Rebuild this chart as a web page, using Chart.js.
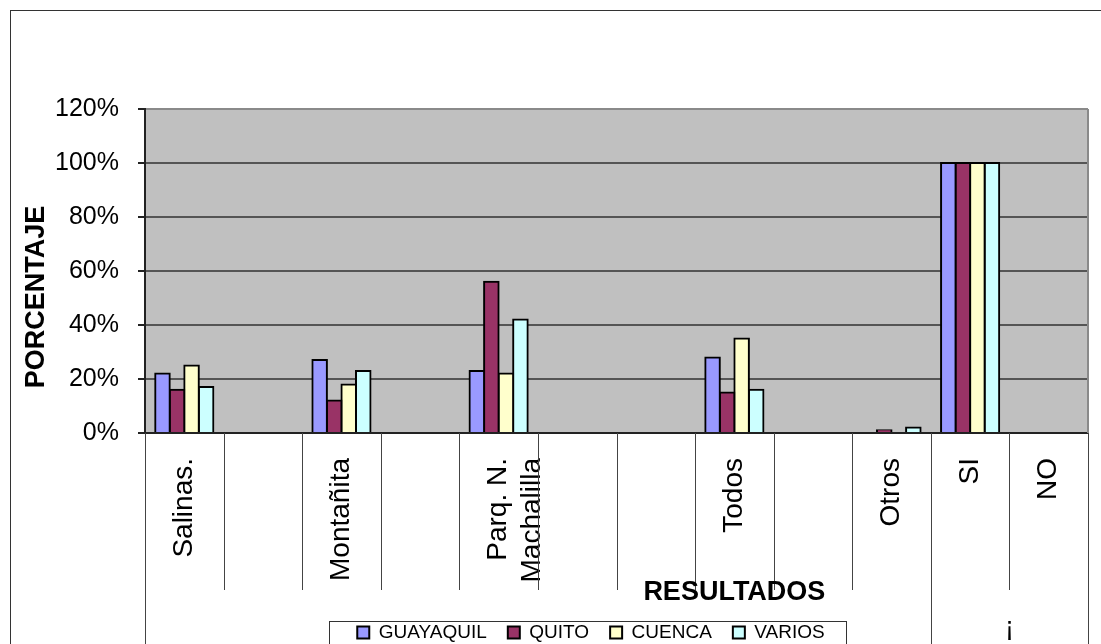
<!DOCTYPE html>
<html>
<head>
<meta charset="utf-8">
<title>Porcentaje por resultados</title>
<script src="https://cdn.jsdelivr.net/npm/chart.js@4.4.1/dist/chart.umd.min.js"></script>
<style>
  html, body { margin: 0; padding: 0; background: #fff; }
  canvas { display: block; }
</style>
</head>
<body>
<canvas id="myChart" width="1101" height="644"></canvas>
<script>
// categories along the x axis (empty strings are blank slots in the original sheet)
const categories = ['Salinas.', '', 'Montañita', '', ['Parq. N.', 'Machalilla'], '', '', 'Todos', '', 'Otros', 'SI', 'NO'];

// percentages per city
const guayaquil = [22, null, 27, null, 23, null, null, 28, null, 0, 100, 0];
const quito     = [16, null, 12, null, 56, null, null, 15, null, 1, 100, 0];
const cuenca    = [25, null, 18, null, 22, null, null, 35, null, 0, 100, 0];
const varios    = [17, null, 23, null, 42, null, null, 16, null, 2, 100, 0];

const yTicks = [0, 20, 40, 60, 80, 100, 120];

// where the long separator lines (second label level) go
const groupEdges = [0, 10, 12];

const FONT = '"Liberation Sans", Arial, Helvetica, sans-serif';
Chart.defaults.font.family = FONT;
Chart.defaults.color = '#000';

const excelLook = {
    id: 'excelLook',
    beforeDraw(chart) {
        const { ctx, chartArea: a } = chart;
        ctx.save();
        ctx.fillStyle = '#fff';
        ctx.fillRect(0, 0, chart.width, chart.height);
        ctx.strokeStyle = '#333';
        ctx.lineWidth = 1;
        ctx.strokeRect(10.5, 10.5, chart.width + 20, chart.height + 20);
        ctx.fillStyle = '#c0c0c0';
        ctx.fillRect(a.left, a.top, a.right - a.left, a.bottom - a.top);
        ctx.restore();
    },
    afterLayout(chart) {
        // move the legend a bit to the right, like the original
        const lg = chart.legend;
        const half = (lg.right - lg.left) / 2;
        lg.left = 591 - half;
        lg.right = 591 + half;
        lg.top = 602;
        lg.bottom = lg.top + lg.height;
    },
    afterDraw(chart) {
        const { ctx, chartArea: a } = chart;
        const xs = chart.scales.x;
        const n = chart.data.labels.length;
        const step = (xs.right - xs.left) / n;
        ctx.save();

        // right border of the plot
        ctx.strokeStyle = '#8a8a8a';
        ctx.lineWidth = 2;
        ctx.beginPath();
        ctx.moveTo(a.right, a.top);
        ctx.lineTo(a.right, a.bottom);
        ctx.stroke();

        // category separators under the axis
        ctx.strokeStyle = '#444';
        ctx.lineWidth = 1;
        for (let i = 0; i <= n; i++) {
            const x = Math.round(xs.left + i * step) + 0.5;
            const yEnd = groupEdges.includes(i) ? chart.height : a.bottom + 157;
            ctx.beginPath();
            ctx.moveTo(x, a.bottom);
            ctx.lineTo(x, yEnd);
            ctx.stroke();
        }

        // legend frame
        const lg = chart.legend;
        const pad = lg.options.labels.padding;
        const itemsW = lg.lineWidths[0] - pad;
        const left = 591 - itemsW / 2 - 28;
        const right = 591 + itemsW / 2 + 22;
        ctx.strokeStyle = '#333';
        ctx.strokeRect(Math.round(left) + 0.5, 621.5, Math.round(right - left), 60);

        // axis titles
        ctx.fillStyle = '#000';
        ctx.font = 'bold 27px ' + FONT;
        ctx.textAlign = 'center';
        ctx.textBaseline = 'middle';
        ctx.fillText('RESULTADOS', xs.getPixelForValue(7), 593);
        ctx.save();
        ctx.translate(37, 297);
        ctx.rotate(-Math.PI / 2);
        ctx.fillText('PORCENTAJE', 0, 0);
        ctx.restore();

        // second level label under SI / NO
        ctx.font = '27px ' + FONT;
        ctx.textBaseline = 'alphabetic';
        ctx.fillText('¡', (xs.getPixelForValue(10) + xs.getPixelForValue(11)) / 2, 636);
        ctx.restore();
    }
};

function barSet(label, values, color) {
    return {
        label: label,
        data: values,
        backgroundColor: color,
        borderColor: '#000',
        borderWidth: 2,
        inflateAmount: (c) => (c.raw ? 1 : 0),
        categoryPercentage: 0.74,
        barPercentage: 1
    };
}

const myChart = new Chart(document.getElementById('myChart'), {
    type: 'bar',
    data: {
        labels: categories,
        datasets: [
            barSet('GUAYAQUIL', guayaquil, '#9999ff'),
            barSet('QUITO', quito, '#993366'),
            barSet('CUENCA', cuenca, '#ffffcc'),
            barSet('VARIOS', varios, '#ccffff')
        ]
    },
    options: {
        responsive: false,
        devicePixelRatio: 1,
        animation: false,
        layout: { padding: { top: 109, right: 13, bottom: 0, left: 10 } },
        scales: {
            x: {
                grid: { display: false, drawTicks: false },
                border: { display: true, color: '#222', width: 2, z: 1 },
                ticks: {
                    autoSkip: false,
                    maxRotation: 90,
                    minRotation: 90,
                    padding: 25,
                    color: '#000',
                    font: { size: 28 }
                },
                afterFit: (s) => {
                    s.height = 161;
                    s.paddingLeft = 0;
                    s.paddingRight = 0;
                }
            },
            y: {
                min: yTicks[0],
                max: yTicks[yTicks.length - 1],
                ticks: {
                    stepSize: yTicks[1] - yTicks[0],
                    padding: 19,
                    color: '#000',
                    font: { size: 25 },
                    callback: (v) => v + '%'
                },
                grid: {
                    color: (c) => (c.tick && c.tick.value === yTicks[yTicks.length - 1] ? '#8a8a8a' : '#555'),
                    lineWidth: 2,
                    tickLength: 7,
                    tickColor: '#222'
                },
                border: { color: '#222', width: 2 },
                afterFit: (s) => {
                    s.width = 135;
                    s.paddingTop = 0;
                    s.paddingBottom = 0;
                }
            }
        },
        plugins: {
            legend: {
                position: 'bottom',
                labels: {
                    boxWidth: 12,
                    boxHeight: 12,
                    padding: 21,
                    color: '#000',
                    font: { size: 19 }
                }
            },
            tooltip: { enabled: false }
        }
    },
    plugins: [excelLook]
});
</script>
</body>
</html>
